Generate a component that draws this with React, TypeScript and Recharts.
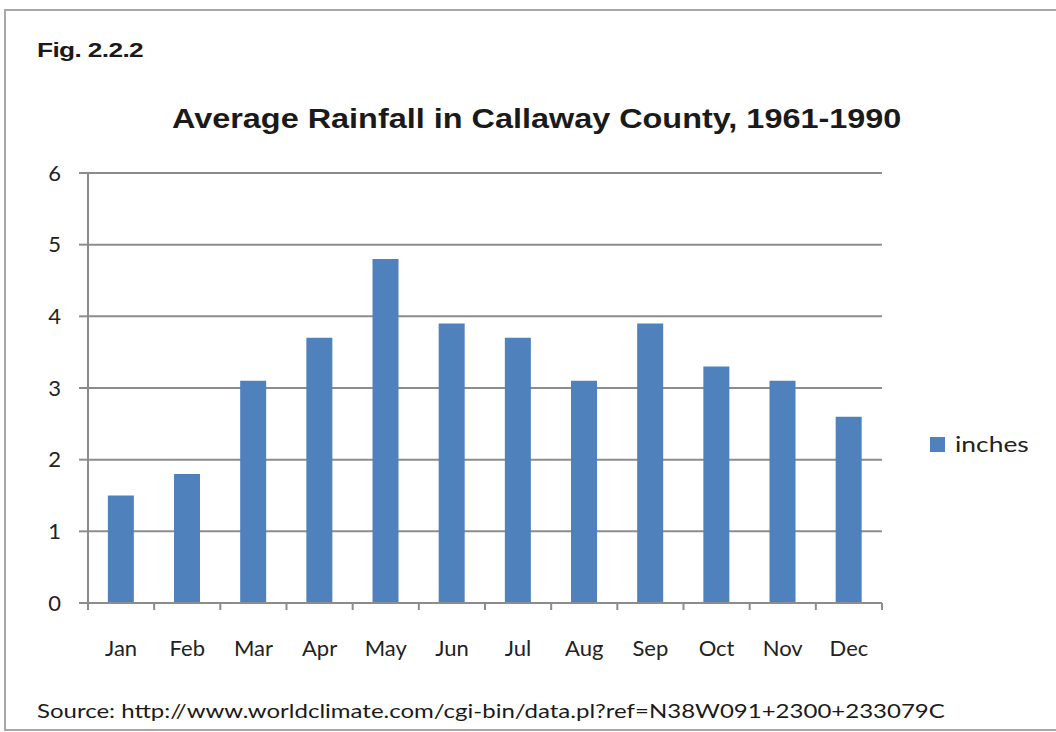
import { BarChart, Bar, XAxis, YAxis, CartesianGrid } from 'recharts';

const months = ['Jan', 'Feb', 'Mar', 'Apr', 'May', 'Jun', 'Jul', 'Aug', 'Sep', 'Oct', 'Nov', 'Dec'];
const inches = [1.5, 1.8, 3.1, 3.7, 4.8, 3.9, 3.7, 3.1, 3.9, 3.3, 3.1, 2.6];
const yTicks = [0, 1, 2, 3, 4, 5, 6];
const boundaryTicks = [0, 1, 2, 3, 4, 5, 6, 7, 8, 9, 10, 11, 12];

const data = months.map((m, i) => ({ month: m, inches: inches[i] }));

const GRID = '#8c8c8c';
const BAR = '#4f81bd';
const LABEL_FONT = 'Lato, "Open Sans", sans-serif';
const STRETCH = 'scaleX(1.2)';

export default function App() {
  return (
    <div style={{ position: 'fixed', left: 0, top: 0, width: 1056, height: 732, background: '#fff', overflow: 'hidden' }}>
      <div
        style={{
          position: 'absolute',
          left: 4,
          top: 9,
          width: 1100,
          height: 718,
          borderLeft: '2px solid #a8a8a8',
          borderTop: '2px solid #a8a8a8',
          borderBottom: '2px solid #a8a8a8',
        }}
      />
      <div style={{ position: 'absolute', left: 37, top: 38, whiteSpace: 'nowrap', transform: 'scaleX(1.25)', transformOrigin: 'left', fontFamily: '"Liberation Sans", Arial, sans-serif', fontWeight: 700, fontSize: 21, color: '#1a1a1a', letterSpacing: -0.5 }}>
        Fig. 2.2.2
      </div>
      <div style={{ position: 'absolute', left: 172, top: 104, whiteSpace: 'nowrap', transform: STRETCH, transformOrigin: 'left', fontFamily: '"Liberation Sans", Arial, sans-serif', fontWeight: 700, fontSize: 27, color: '#1a1a1a' }}>
        Average Rainfall in Callaway County, 1961-1990
      </div>
      <BarChart
        width={1056}
        height={732}
        data={data}
        margin={{ top: 173, right: 174, left: 48, bottom: 79 }}
        barCategoryGap="30%"
        style={{ position: 'absolute', left: 0, top: 0 }}
      >
        <CartesianGrid stroke={GRID} strokeWidth={2} vertical={false} xAxisId="b" />
        <XAxis
          xAxisId="a"
          type="number"
          dataKey={() => 0}
          domain={[0, 12]}
          ticks={boundaryTicks}
          tickFormatter={() => ''}
          tickSize={7}
          height={1}
          axisLine={{ stroke: GRID, strokeWidth: 2 }}
          tickLine={{ stroke: GRID, strokeWidth: 2 }}
          allowDataOverflow
        />
        <XAxis
          xAxisId="b"
          dataKey="month"
          height={49}
          axisLine={false}
          tickLine={false}
          tickMargin={30}
          tick={{ fill: '#222', fontSize: 22, fontFamily: LABEL_FONT }}
        />
        <YAxis
          width={40}
          domain={[0, 6]}
          ticks={yTicks}
          tickSize={9}
          tickMargin={18}
          axisLine={{ stroke: GRID, strokeWidth: 2 }}
          tickLine={{ stroke: GRID, strokeWidth: 2 }}
          tick={{ fill: '#222', fontSize: 22, fontFamily: LABEL_FONT }}
        />
        <Bar dataKey="inches" xAxisId="b" fill={BAR} isAnimationActive={false} />
      </BarChart>
      <div style={{ position: 'absolute', left: 930, top: 437, width: 15, height: 15, background: BAR }} />
      <div style={{ position: 'absolute', left: 955, top: 430, whiteSpace: 'nowrap', transform: STRETCH, transformOrigin: 'left', fontFamily: LABEL_FONT, fontSize: 22, color: '#222' }}>
        inches
      </div>
      <div style={{ position: 'absolute', left: 37, top: 698, whiteSpace: 'nowrap', transform: STRETCH, transformOrigin: 'left', fontFamily: LABEL_FONT, fontSize: 20, color: '#1a1a1a' }}>
        Source: http://www.worldclimate.com/cgi-bin/data.pl?ref=N38W091+2300+233079C
      </div>
    </div>
  );
}
